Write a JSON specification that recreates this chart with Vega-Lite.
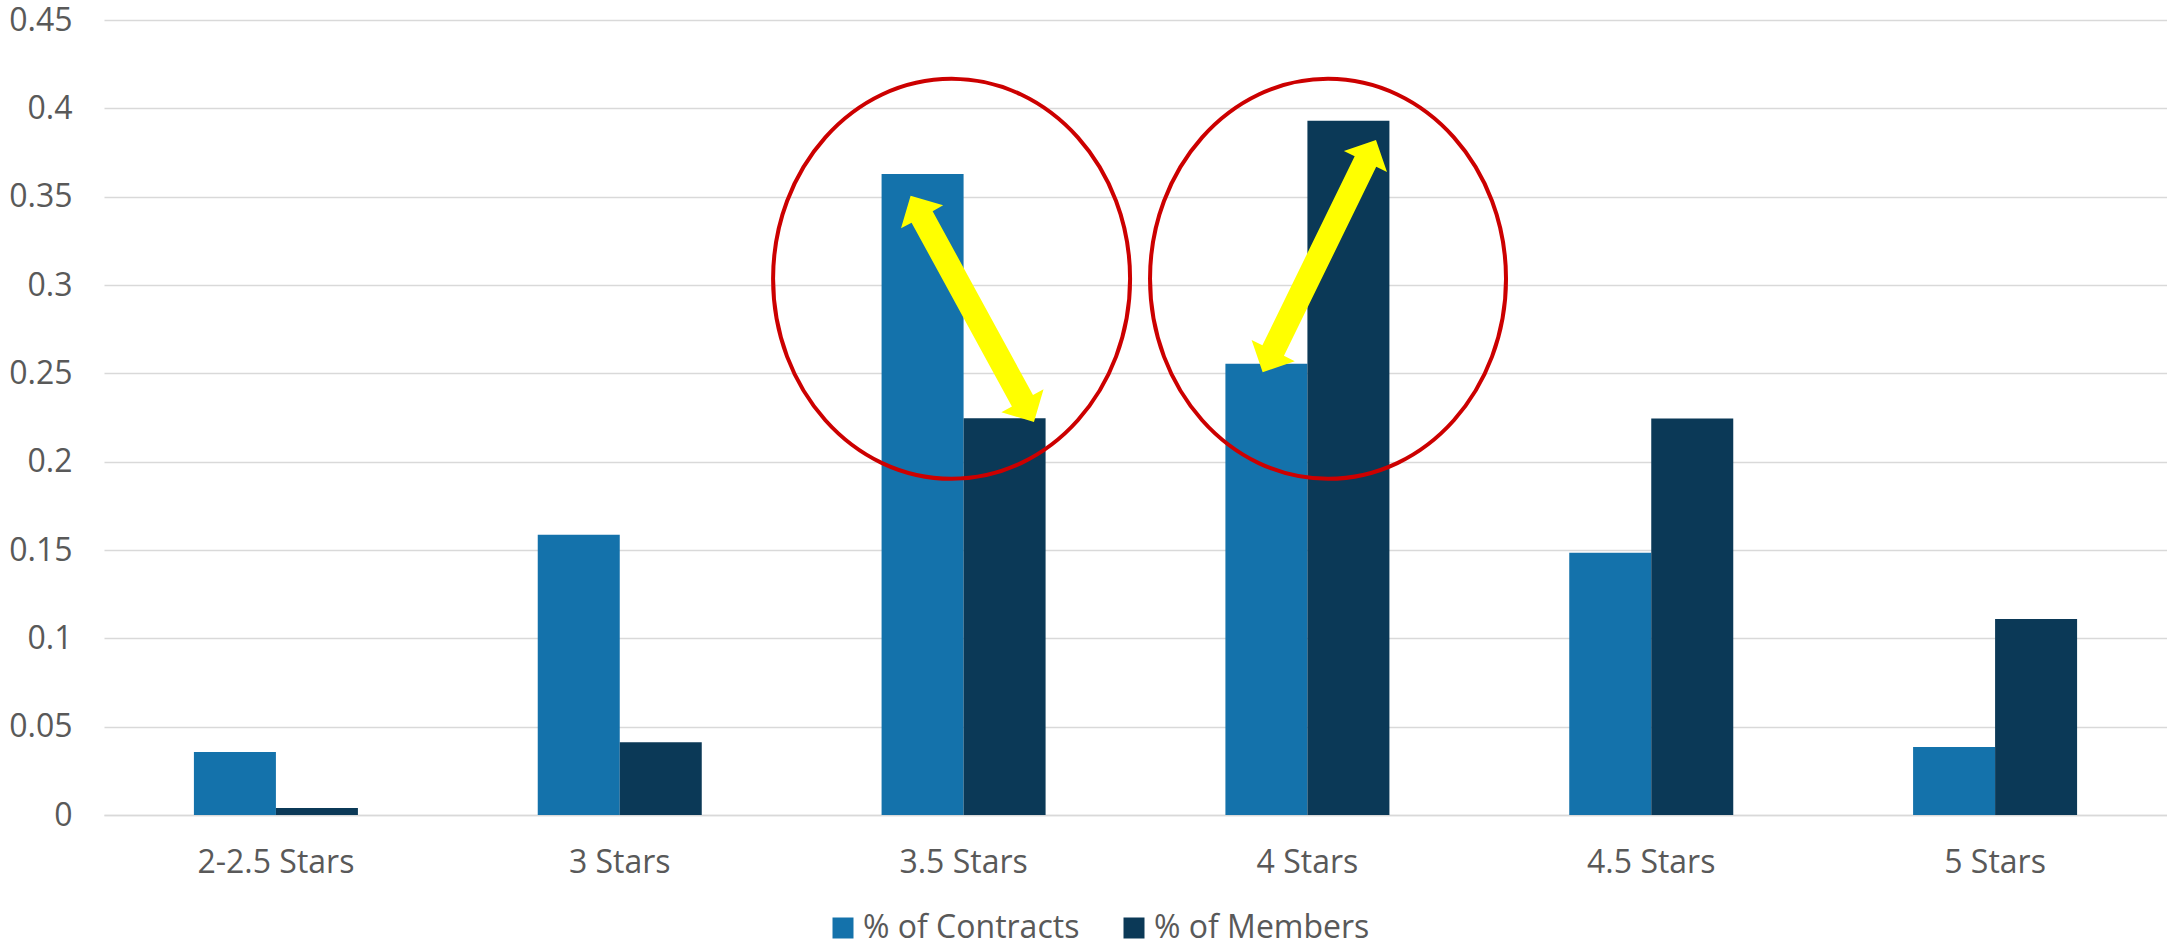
{
  "$schema": "https://vega.github.io/schema/vega-lite/v6.json",
  "width": 2063,
  "height": 795,
  "autosize": {"type": "none"},
  "padding": {"left": 104, "top": 20, "right": 0, "bottom": 129},
  "background": "white",
  "config": {"view": {"stroke": null}, "font": "Open Sans"},
  "datasets": {
    "bars": [
      {"category": "2-2.5 Stars", "series": "% of Contracts", "value": 0.0357},
      {"category": "2-2.5 Stars", "series": "% of Members", "value": 0.004},
      {"category": "3 Stars", "series": "% of Contracts", "value": 0.1586},
      {"category": "3 Stars", "series": "% of Members", "value": 0.0412},
      {"category": "3.5 Stars", "series": "% of Contracts", "value": 0.3628},
      {"category": "3.5 Stars", "series": "% of Members", "value": 0.2246},
      {"category": "4 Stars", "series": "% of Contracts", "value": 0.2554},
      {"category": "4 Stars", "series": "% of Members", "value": 0.393},
      {"category": "4.5 Stars", "series": "% of Contracts", "value": 0.1485},
      {"category": "4.5 Stars", "series": "% of Members", "value": 0.2244},
      {"category": "5 Stars", "series": "% of Contracts", "value": 0.0385},
      {"category": "5 Stars", "series": "% of Members", "value": 0.111}
    ],
    "rings": [
      {"category": "3.5 Stars", "value": 0.3035, "note": "ring35"},
      {"category": "4 Stars", "value": 0.3035, "note": "ring4"}
    ],
    "arrows": [
      {"category": "3.5 Stars", "value": 0.2865, "note": "arrow35"},
      {"category": "4 Stars", "value": 0.3164, "note": "arrow4"}
    ]
  },
  "layer": [
    {
      "data": {"name": "bars"},
      "mark": {"type": "bar"},
      "encoding": {
        "x": {
          "field": "category", "type": "nominal",
          "scale": {"domain": ["2-2.5 Stars", "3 Stars", "3.5 Stars", "4 Stars", "4.5 Stars", "5 Stars"], "paddingInner": 0.523, "paddingOuter": 0.2615},
          "axis": {"title": null, "labelAngle": 0, "ticks": false, "domainColor": "#d9d9d9", "domainWidth": 1.5, "labelFontSize": 32, "labelColor": "#595959", "labelPadding": 32, "labelFont": "Open Sans"}
        },
        "xOffset": {"field": "series", "type": "nominal", "sort": ["% of Contracts", "% of Members"], "scale": {"paddingInner": 0, "paddingOuter": 0}},
        "y": {
          "field": "value", "type": "quantitative",
          "scale": {"domain": [0, 0.45], "nice": false},
          "axis": {"title": null, "values": [0, 0.05, 0.1, 0.15, 0.2, 0.25, 0.3, 0.35, 0.4, 0.45], "format": ".2~f", "domain": false, "ticks": false, "grid": true, "gridColor": "#d9d9d9", "gridWidth": 1.5, "labelFontSize": 32, "labelColor": "#595959", "labelPadding": 32, "labelFont": "Open Sans"}
        },
        "color": {
          "field": "series", "type": "nominal",
          "scale": {"domain": ["% of Contracts", "% of Members"], "range": ["#1472ab", "#0b3957"]},
          "legend": {"orient": "none", "legendX": 723, "legendY": 892, "direction": "horizontal", "title": null, "symbolType": "square", "symbolSize": 441, "symbolStrokeWidth": 0, "labelFontSize": 32, "labelColor": "#595959", "labelFont": "Open Sans", "labelOffset": 4, "columnPadding": 38, "labelLimit": 400}
        }
      }
    },
    {
      "data": {"name": "arrows"},
      "mark": {"type": "point", "filled": true, "color": "#ffff00", "opacity": 1, "strokeWidth": 0, "size": 160000},
      "encoding": {
        "x": {"field": "category", "type": "nominal"},
        "y": {"field": "value", "type": "quantitative"},
        "shape": {
          "field": "note", "type": "nominal", "legend": null,
          "scale": {
            "domain": ["arrow35", "arrow4", "ring35", "ring4"],
            "range": [
              "M 0.3519 0.5652 L 0.3998 0.4024 L 0.3471 0.4311 L -0.1547 -0.4886 L -0.1021 -0.5174 L -0.2649 -0.5652 L -0.3128 -0.4024 L -0.2601 -0.4311 L 0.2417 0.4886 L 0.1891 0.5174 Z",
              "M 0.3428 -0.5807 L 0.398 -0.4203 L 0.3441 -0.4466 L -0.1173 0.4992 L -0.0633 0.5255 L -0.2238 0.5807 L -0.279 0.4203 L -0.2251 0.4466 L 0.2363 -0.4992 L 0.1823 -0.5255 Z",
              "M -0.9525 0 C -0.9525 -0.5523 -0.5529 -1 -0.06 -1 C 0.4329 -1 0.8325 -0.5523 0.8325 0 C 0.8325 0.5523 0.4329 1 -0.06 1 C -0.5529 1 -0.9525 0.5523 -0.9525 0 Z",
              "M -0.787 0 C -0.787 -0.5523 -0.3885 -1 0.103 -1 C 0.5945 -1 0.993 -0.5523 0.993 0 C 0.993 0.5523 0.5945 1 0.103 1 C -0.3885 1 -0.787 0.5523 -0.787 0 Z"
            ]
          }
        }
      }
    },
    {
      "data": {"name": "rings"},
      "mark": {"type": "point", "filled": false, "color": "#cc0000", "opacity": 1, "strokeWidth": 4, "size": 160000},
      "encoding": {
        "x": {"field": "category", "type": "nominal"},
        "y": {"field": "value", "type": "quantitative"},
        "shape": {
          "field": "note", "type": "nominal", "legend": null,
          "scale": {
            "domain": ["arrow35", "arrow4", "ring35", "ring4"],
            "range": [
              "M 0.3519 0.5652 L 0.3998 0.4024 L 0.3471 0.4311 L -0.1547 -0.4886 L -0.1021 -0.5174 L -0.2649 -0.5652 L -0.3128 -0.4024 L -0.2601 -0.4311 L 0.2417 0.4886 L 0.1891 0.5174 Z",
              "M 0.3428 -0.5807 L 0.398 -0.4203 L 0.3441 -0.4466 L -0.1173 0.4992 L -0.0633 0.5255 L -0.2238 0.5807 L -0.279 0.4203 L -0.2251 0.4466 L 0.2363 -0.4992 L 0.1823 -0.5255 Z",
              "M -0.9525 0 C -0.9525 -0.5523 -0.5529 -1 -0.06 -1 C 0.4329 -1 0.8325 -0.5523 0.8325 0 C 0.8325 0.5523 0.4329 1 -0.06 1 C -0.5529 1 -0.9525 0.5523 -0.9525 0 Z",
              "M -0.787 0 C -0.787 -0.5523 -0.3885 -1 0.103 -1 C 0.5945 -1 0.993 -0.5523 0.993 0 C 0.993 0.5523 0.5945 1 0.103 1 C -0.3885 1 -0.787 0.5523 -0.787 0 Z"
            ]
          }
        }
      }
    }
  ]
}
